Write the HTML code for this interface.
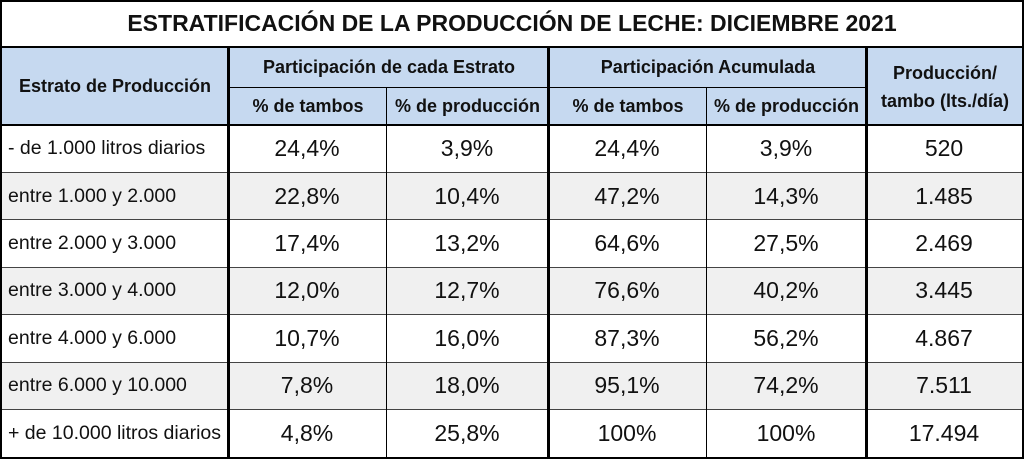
<!DOCTYPE html>
<html><head><meta charset="utf-8"><style>
*{margin:0;padding:0;box-sizing:border-box}
body{width:1024px;height:459px;background:#fff;position:relative;overflow:hidden;font-family:"Liberation Sans",sans-serif;color:#111}
.c{position:absolute;display:flex;align-items:center;justify-content:center;white-space:nowrap}
.l{justify-content:flex-start;padding-left:8px}
.h{background:#c6d9f0;font-weight:bold;font-size:18px}
.d{font-size:23px}
.hl{position:absolute;background:#000}
</style></head><body>
<div class="c" style="left:0;top:0;width:1024px;height:47px;font-weight:bold;font-size:23px">ESTRATIFICACIÓN DE LA PRODUCCIÓN DE LECHE: DICIEMBRE 2021</div>
<div class="c h" style="left:2px;top:48px;width:226px;height:77px">Estrato de Producción</div>
<div class="c h" style="left:230px;top:48px;width:318px;height:39px">Participación de cada Estrato</div>
<div class="c h" style="left:550px;top:48px;width:316px;height:39px">Participación Acumulada</div>
<div class="c h" style="left:868px;top:48px;width:154px;height:77px;line-height:28px;text-align:center;white-space:normal">Producción/<br>tambo (lts./día)</div>
<div class="c h" style="left:230px;top:88px;width:156px;height:37px">% de tambos</div>
<div class="c h" style="left:387px;top:88px;width:161px;height:37px">% de producción</div>
<div class="c h" style="left:550px;top:88px;width:156px;height:37px">% de tambos</div>
<div class="c h" style="left:707px;top:88px;width:159px;height:37px">% de producción</div>
<div id="rows"></div>
<script>
var data=[["- de 1.000 litros diarios","24,4%","3,9%","24,4%","3,9%","520"],
["entre 1.000 y 2.000","22,8%","10,4%","47,2%","14,3%","1.485"],
["entre 2.000 y 3.000","17,4%","13,2%","64,6%","27,5%","2.469"],
["entre 3.000 y 4.000","12,0%","12,7%","76,6%","40,2%","3.445"],
["entre 4.000 y 6.000","10,7%","16,0%","87,3%","56,2%","4.867"],
["entre 6.000 y 10.000","7,8%","18,0%","95,1%","74,2%","7.511"],
["+ de 10.000 litros diarios","4,8%","25,8%","100%","100%","17.494"]];
var xs=[0,228,386,548,706,866,1022],h="",rh=47.4;
for(var i=0;i<7;i++){var y=125+i*rh;
 if(i%2==1)h+='<div style="position:absolute;left:2px;top:'+y+'px;width:1020px;height:'+rh+'px;background:#f0f0f0"></div>';
 for(var j=0;j<6;j++){h+='<div class="c d'+(j==0?' l':'')+'" style="left:'+xs[j]+'px;top:'+y+'px;width:'+(xs[j+1]-xs[j])+'px;height:'+rh+'px;'+(j==0?'font-size:19.5px':'')+'">'+data[i][j]+'</div>';}
 if(i>0)h+='<div class="hl" style="left:2px;top:'+(y-0.5)+'px;width:1020px;height:1px;background:#444"></div>';
}
h+='<div class="hl" style="left:0;top:0;width:1024px;height:2px"></div>';
h+='<div class="hl" style="left:0;top:457px;width:1024px;height:2px"></div>';
h+='<div class="hl" style="left:0;top:0;width:2px;height:459px"></div>';
h+='<div class="hl" style="left:1022px;top:0;width:2px;height:459px"></div>';
h+='<div class="hl" style="left:0;top:46px;width:1024px;height:2px"></div>';
h+='<div class="hl" style="left:0;top:124px;width:1024px;height:2px"></div>';
h+='<div class="hl" style="left:228px;top:87px;width:638px;height:1px"></div>';
[228,548,866].forEach(function(x){h+='<div class="hl" style="left:'+(x-1)+'px;top:47px;width:3px;height:412px"></div>'});
[386,706].forEach(function(x){h+='<div class="hl" style="left:'+x+'px;top:87px;width:1px;height:372px"></div>'});
document.getElementById('rows').innerHTML=h;
</script>
</body></html>
